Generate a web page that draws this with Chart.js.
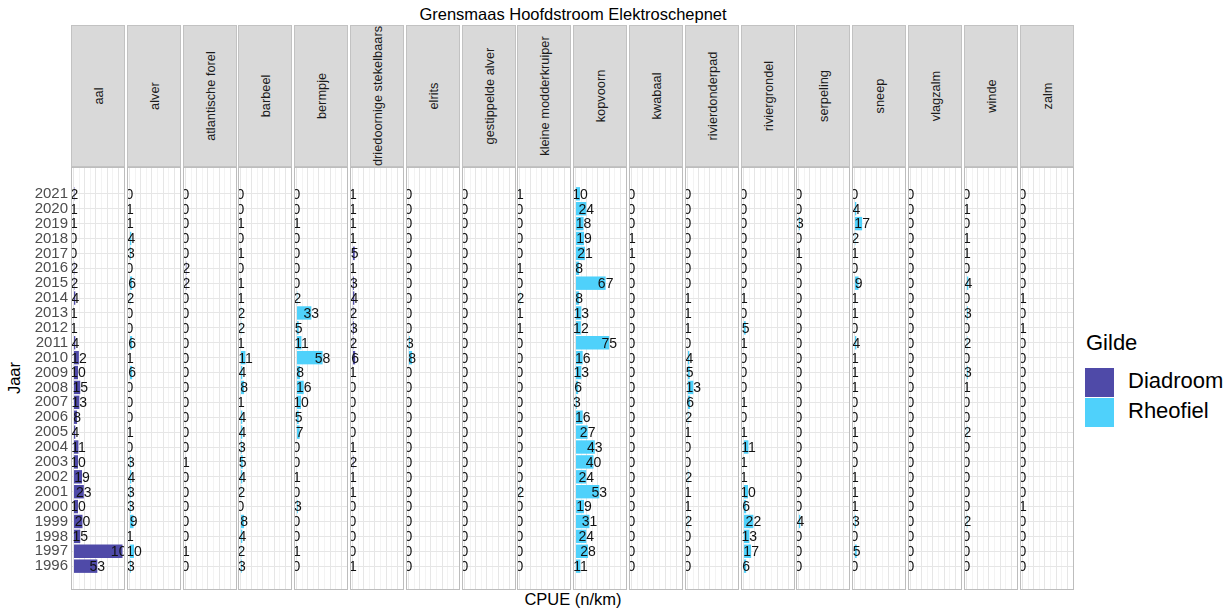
<!DOCTYPE html>
<html>
<head>
<meta charset="utf-8">
<script src="https://cdn.jsdelivr.net/npm/chart.js@4.4.1/dist/chart.umd.min.js"></script>
<style>
  body { margin: 0; background: #fff; font-family: "Liberation Sans", Arial, sans-serif; }
  #wrap { position: relative; width: 1228px; height: 611px; overflow: hidden; background: #fff; }
  canvas { position: absolute; }
  .strip { position: absolute; top: 25px; width: 54px; height: 142px; background: #d9d9d9; box-sizing: border-box; border: 1px solid #c2c2c2; }
  .strip span { position: absolute; left: 50%; top: 50%; transform: translate(-50%, -50%) rotate(-90deg); white-space: nowrap; font-size: 12.8px; color: #1a1a1a; }
  .txt { position: absolute; white-space: nowrap; color: #000; line-height: 1; }
  .swatch { position: absolute; left: 1085px; width: 29px; height: 29px; }
</style>
</head>
<body>
<div id="wrap">
  <div class="txt" style="left:0;width:1146px;text-align:center;top:6px;font-size:16.5px;">Grensmaas Hoofdstroom Elektroschepnet</div>
  <div class="txt" style="left:0;width:1146px;text-align:center;top:591px;font-size:16.5px;">CPUE (n/km)</div>
  <div class="txt" style="left:14px;top:378px;font-size:16.5px;transform:translate(-50%,-50%) rotate(-90deg);">Jaar</div>
  <div class="txt" style="left:1086px;top:332px;font-size:22px;">Gilde</div>
  <div class="swatch" style="top:368px;background:#4f4aa8;"></div>
  <div class="swatch" style="top:398px;background:#4fd1fb;"></div>
  <div class="txt" style="left:1128px;top:370px;font-size:22px;">Diadroom</div>
  <div class="txt" style="left:1128px;top:400px;font-size:22px;">Rheofiel</div>
</div>
<script>
// years top to bottom, values in the same order
const years = [2021, 2020, 2019, 2018, 2017, 2016, 2015, 2014, 2013, 2012, 2011, 2010, 2009,
               2008, 2007, 2006, 2005, 2004, 2003, 2002, 2001, 2000, 1999, 1998, 1997, 1996];

const species = ['aal', 'alver', 'atlantische forel', 'barbeel', 'bermpje', 'driedoornige stekelbaars',
                 'elrits', 'gestippelde alver', 'kleine modderkruiper', 'kopvoorn', 'kwabaal',
                 'rivierdonderpad', 'riviergrondel', 'serpeling', 'sneep', 'vlagzalm', 'winde', 'zalm'];

const guild = ['Diadroom', 'Rheofiel', 'Diadroom', 'Rheofiel', 'Rheofiel', 'Diadroom',
               'Rheofiel', 'Rheofiel', 'Rheofiel', 'Rheofiel', 'Rheofiel',
               'Rheofiel', 'Rheofiel', 'Rheofiel', 'Rheofiel', 'Rheofiel', 'Rheofiel', 'Diadroom'];

const aal = [2, 1, 1, 0, 0, 2, 2, 4, 1, 1, 4, 12, 10, 15, 13, 8, 4, 11, 10, 19, 23, 10, 20, 15, 109, 53];
const alver = [0, 1, 1, 4, 3, 0, 6, 2, 0, 0, 6, 1, 6, 0, 0, 0, 1, 0, 3, 4, 3, 3, 9, 1, 10, 3];
const atlantischeForel = [0, 0, 0, 0, 0, 2, 2, 0, 0, 0, 0, 0, 0, 0, 0, 0, 0, 0, 1, 0, 0, 0, 0, 0, 1, 0];
const barbeel = [0, 0, 1, 0, 1, 0, 1, 1, 2, 2, 1, 11, 4, 8, 1, 4, 4, 3, 5, 4, 2, 0, 8, 4, 2, 3];
const bermpje = [0, 0, 1, 0, 0, 0, 0, 2, 33, 5, 11, 58, 8, 16, 10, 5, 7, 0, 0, 1, 0, 3, 0, 0, 1, 0];
const stekelbaars = [1, 1, 1, 1, 5, 1, 3, 4, 2, 3, 2, 6, 1, 0, 0, 0, 0, 1, 2, 1, 1, 0, 0, 0, 0, 1];
const elrits = [0, 0, 0, 0, 0, 0, 0, 0, 0, 0, 3, 8, 0, 0, 0, 0, 0, 0, 0, 0, 0, 0, 0, 0, 0, 0];
const gestippeldeAlver = [0, 0, 0, 0, 0, 0, 0, 0, 0, 0, 0, 0, 0, 0, 0, 0, 0, 0, 0, 0, 0, 0, 0, 0, 0, 0];
const modderkruiper = [1, 0, 0, 0, 0, 1, 0, 2, 1, 1, 0, 0, 0, 0, 0, 0, 0, 0, 0, 0, 2, 0, 0, 0, 0, 0];
const kopvoorn = [10, 24, 18, 19, 21, 8, 67, 8, 13, 12, 75, 16, 13, 6, 3, 16, 27, 43, 40, 24, 53, 19, 31, 24, 28, 11];
const kwabaal = [0, 0, 0, 1, 1, 0, 0, 0, 0, 0, 0, 0, 0, 0, 0, 0, 0, 0, 0, 0, 0, 0, 0, 0, 0, 0];
const rivierdonderpad = [0, 0, 0, 0, 0, 0, 0, 1, 1, 1, 0, 4, 5, 13, 6, 2, 1, 0, 0, 2, 1, 1, 2, 0, 0, 0];
const riviergrondel = [0, 0, 0, 0, 0, 0, 0, 1, 0, 5, 1, 0, 0, 0, 1, 0, 1, 11, 1, 1, 10, 6, 22, 13, 17, 6];
const serpeling = [0, 0, 3, 0, 1, 0, 0, 0, 0, 0, 0, 0, 0, 0, 0, 0, 0, 0, 0, 0, 0, 0, 4, 0, 0, 0];
const sneep = [0, 4, 17, 2, 1, 0, 9, 1, 1, 0, 4, 1, 1, 1, 0, 0, 1, 0, 0, 1, 1, 1, 3, 0, 5, 0];
const vlagzalm = [0, 0, 0, 0, 0, 0, 0, 0, 0, 0, 0, 0, 0, 0, 0, 0, 0, 0, 0, 0, 0, 0, 0, 0, 0, 0];
const winde = [0, 1, 0, 1, 1, 0, 4, 0, 3, 0, 2, 0, 3, 1, 0, 0, 2, 0, 0, 0, 0, 0, 2, 0, 0, 0];
const zalm = [0, 0, 0, 0, 0, 0, 0, 1, 0, 1, 0, 0, 0, 0, 0, 0, 0, 0, 0, 0, 0, 1, 0, 0, 0, 0];

const values = [aal, alver, atlantischeForel, barbeel, bermpje, stekelbaars, elrits, gestippeldeAlver,
                modderkruiper, kopvoorn, kwabaal, rivierdonderpad, riviergrondel, serpeling, sneep,
                vlagzalm, winde, zalm];

const guildColors = { Diadroom: '#4f4aa8', Rheofiel: '#4fd1fb' };

const panelLeft = 71, panelPitch = 55.8, panelWidth = 54;
const panelTop = 167, panelHeight = 423;

// number written on every bar, centred on the end of the bar, clipped to the panel
const valueLabels = {
  id: 'valueLabels',
  afterDatasetsDraw(chart) {
    const { ctx, chartArea } = chart;
    const meta = chart.getDatasetMeta(0);
    const data = chart.data.datasets[0].data;
    ctx.save();
    ctx.beginPath();
    ctx.rect(chartArea.left, chartArea.top, chartArea.right - chartArea.left, chartArea.bottom - chartArea.top);
    ctx.clip();
    ctx.font = '14px "Liberation Sans", Arial, sans-serif';
    ctx.fillStyle = '#111';
    ctx.textAlign = 'center';
    ctx.textBaseline = 'middle';
    meta.data.forEach((bar, i) => {
      ctx.fillText(String(data[i].x), bar.x, bar.y + 1);
    });
    ctx.restore();
  }
};

const panelBorder = {
  id: 'panelBorder',
  afterDraw(chart) {
    const { ctx, chartArea } = chart;
    ctx.save();
    ctx.strokeStyle = '#bdbdbd';
    ctx.lineWidth = 1;
    ctx.strokeRect(chartArea.left + 0.5, chartArea.top + 0.5,
                   chartArea.right - chartArea.left - 1, chartArea.bottom - chartArea.top - 1);
    ctx.restore();
  }
};

const wrap = document.getElementById('wrap');

species.forEach((name, i) => {
  const left = Math.round(panelLeft + i * panelPitch);

  const strip = document.createElement('div');
  strip.className = 'strip';
  strip.style.left = left + 'px';
  strip.innerHTML = '<span>' + name + '</span>';
  wrap.appendChild(strip);

  const first = i === 0;
  const canvas = document.createElement('canvas');
  const cw = first ? left + panelWidth : panelWidth;
  canvas.width = cw;
  canvas.height = panelHeight;
  canvas.style.left = (first ? 0 : left) + 'px';
  canvas.style.top = panelTop + 'px';
  wrap.appendChild(canvas);

  new Chart(canvas.getContext('2d'), {
    type: 'bar',
    data: {
      datasets: [{
        data: years.map((y, k) => ({ x: values[i][k], y: y })),
        backgroundColor: guildColors[guild[i]],
        borderWidth: 0,
        barPercentage: 0.9,
        categoryPercentage: 1
      }]
    },
    options: {
      indexAxis: 'y',
      responsive: false,
      animation: false,
      devicePixelRatio: 1,
      layout: { padding: 0, autoPadding: false },
      plugins: { legend: { display: false }, tooltip: { enabled: false } },
      scales: {
        x: {
          type: 'linear',
          min: -5.5,
          max: 114.5,
          border: { display: false },
          grid: {
            drawTicks: false,
            color: ctx => (ctx.tick && ctx.tick.value % 25 === 0) ? '#e6e6e6' : '#f3f3f3'
          },
          ticks: { display: false, stepSize: 12.5, includeBounds: false },
          afterFit: s => { s.height = 0; s.paddingLeft = 0; s.paddingRight = 0; }
        },
        y: {
          type: 'linear',
          offset: false,
          min: 1994.4,
          max: 2022.8,
          border: { display: false },
          grid: {
            offset: false,
            drawTicks: false,
            color: ctx => (ctx.tick && years.includes(ctx.tick.value)) ? '#e6e6e6' : 'rgba(0,0,0,0)'
          },
          ticks: {
            display: first,
            stepSize: 1,
            includeBounds: false,
            autoSkip: false,
            padding: 3,
            color: '#4d4d4d',
            font: { family: '"Liberation Sans", Arial, sans-serif', size: 15 },
            callback: v => years.includes(v) ? String(v) : ''
          },
          afterFit: s => { s.width = first ? left : 0; s.paddingTop = 0; s.paddingBottom = 0; }
        }
      }
    },
    plugins: [valueLabels, panelBorder]
  });
});
</script>
</body>
</html>
